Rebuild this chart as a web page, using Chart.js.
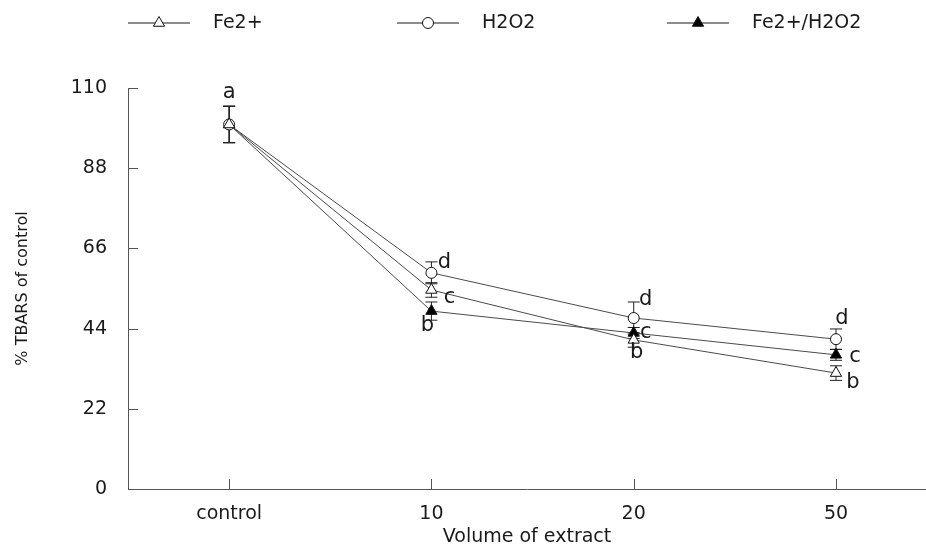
<!DOCTYPE html>
<html>
<head>
<meta charset="utf-8">
<script src="https://cdn.jsdelivr.net/npm/chart.js@4.4.1/dist/chart.umd.min.js"></script>
<style>
  html, body { margin: 0; padding: 0; background: #fff; overflow: hidden; }
  canvas { display: block; }
</style>
</head>
<body>
<canvas id="tbarsChart" width="926" height="552"></canvas>
<script>
// categories and tick values
const categories = ['control', '10', '20', '50'];
const yTicks = [0, 22, 44, 66, 88, 110];

// % TBARS of control
const fe2Values = [100, 54.6, 40.9, 31.8];
const h2o2Values = [100, 59.3, 46.9, 41.1];
const fe2h2o2Values = [100, 48.8, 42.8, 36.8];

// error bar half-heights
const fe2Errors = [5, 2, 2, 2];
const h2o2Errors = [5, 3, 4.4, 2.8];
const fe2h2o2Errors = [5, 2.5, 1.5, 1.5];

// significance letters
const fe2Letters = ['', 'c', 'b', 'b'];
const h2o2Letters = ['a', 'd', 'd', 'd'];
const fe2h2o2Letters = ['', 'b', 'c', 'c'];

// letter placement relative to the point (px)
const fe2LetterOffsets = [null, [18, 8], [3, 13], [17, 9]];
const h2o2LetterOffsets = [[0, -32], [13, -10], [12, -18], [6, -21]];
const fe2h2o2LetterOffsets = [null, [-4, 14], [12, 0], [19, 2]];

const FONT = 'DejaVu Sans';
const TEXT = '#1a1a1a';
const AXIS = '#555';

Chart.defaults.font.family = FONT;
Chart.defaults.font.size = 19;
Chart.defaults.color = TEXT;

function toPoints(values) {
    return values.map((v, i) => ({ x: i, y: v }));
}

function makeSeries(label, values, errors, letters, offsets, style, fill) {
    return {
        label: label,
        data: toPoints(values),
        errors: errors,
        letters: letters,
        letterOffsets: offsets,
        borderColor: '#4a4a4a',
        borderWidth: 1,
        pointStyle: style,
        pointRadius: style === 'circle' ? 5.5 : 6.5,
        pointHoverRadius: style === 'circle' ? 5.5 : 6.5,
        pointBackgroundColor: fill,
        pointBorderColor: '#111',
        pointBorderWidth: 1,
        tension: 0
    };
}

const errorBarPlugin = {
    id: 'errorBars',
    beforeDatasetsDraw(chart) {
        const { ctx, scales: { x, y } } = chart;
        ctx.save();
        ctx.strokeStyle = '#222';
        ctx.lineWidth = 1;
        chart.data.datasets.forEach(ds => {
            ds.data.forEach((p, i) => {
                const e = ds.errors[i];
                const px = x.getPixelForValue(p.x);
                const top = y.getPixelForValue(p.y + e);
                const bot = y.getPixelForValue(p.y - e);
                ctx.beginPath();
                ctx.moveTo(px, top); ctx.lineTo(px, bot);
                ctx.moveTo(px - 6, top); ctx.lineTo(px + 6, top);
                ctx.moveTo(px - 6, bot); ctx.lineTo(px + 6, bot);
                ctx.stroke();
            });
        });
        ctx.restore();
    },
    afterDatasetsDraw(chart) {
        const { ctx, scales: { x, y } } = chart;
        ctx.save();
        ctx.font = '21px "' + FONT + '"';
        ctx.fillStyle = TEXT;
        ctx.textAlign = 'center';
        ctx.textBaseline = 'middle';
        chart.data.datasets.forEach(ds => {
            ds.data.forEach((p, i) => {
                const txt = ds.letters[i];
                const off = ds.letterOffsets[i];
                if (!txt || !off) return;
                ctx.fillText(txt, x.getPixelForValue(p.x) + off[0], y.getPixelForValue(p.y) + off[1]);
            });
        });
        ctx.restore();
    }
};

// inward tick marks and the legend at the top
const framePlugin = {
    id: 'frame',
    afterDraw(chart) {
        const { ctx, scales: { x, y }, chartArea } = chart;
        ctx.save();
        ctx.strokeStyle = AXIS;
        ctx.lineWidth = 1;
        ctx.beginPath();
        yTicks.forEach(v => {
            if (v === 0) return;
            const py = Math.round(y.getPixelForValue(v)) + 0.5;
            ctx.moveTo(chartArea.left, py);
            ctx.lineTo(chartArea.left + 10, py);
        });
        categories.forEach((c, i) => {
            const px = Math.round(x.getPixelForValue(i)) + 0.5;
            ctx.moveTo(px, chartArea.bottom);
            ctx.lineTo(px, chartArea.bottom - 10);
        });
        ctx.stroke();

        const legendX = [128, 397, 667];
        const legendY = 23;
        chart.data.datasets.forEach((ds, i) => {
            const x0 = legendX[i];
            ctx.strokeStyle = '#666';
            ctx.lineWidth = 1.5;
            ctx.beginPath();
            ctx.moveTo(x0, legendY);
            ctx.lineTo(x0 + 62, legendY);
            ctx.stroke();
            ctx.fillStyle = ds.pointBackgroundColor;
            ctx.strokeStyle = ds.pointBorderColor;
            ctx.lineWidth = 1;
            Chart.helpers.drawPoint(ctx, {
                pointStyle: ds.pointStyle,
                radius: ds.pointRadius,
                borderWidth: 1,
                rotation: 0
            }, x0 + 31, legendY);
            ctx.fillStyle = TEXT;
            ctx.font = '19px "' + FONT + '"';
            ctx.textAlign = 'left';
            ctx.textBaseline = 'middle';
            ctx.fillText(ds.label, x0 + 85, legendY);
        });
        ctx.restore();
    }
};

new Chart(document.getElementById('tbarsChart'), {
    type: 'line',
    data: {
        datasets: [
            makeSeries('Fe2+', fe2Values, fe2Errors, fe2Letters, fe2LetterOffsets, 'triangle', '#fff'),
            makeSeries('H2O2', h2o2Values, h2o2Errors, h2o2Letters, h2o2LetterOffsets, 'circle', '#fff'),
            makeSeries('Fe2+/H2O2', fe2h2o2Values, fe2h2o2Errors, fe2h2o2Letters, fe2h2o2LetterOffsets, 'triangle', '#000')
        ]
    },
    options: {
        responsive: false,
        devicePixelRatio: 1,
        animation: false,
        layout: { autoPadding: false, padding: { top: 88, right: 0, bottom: 0, left: 0 } },
        plugins: {
            legend: { display: false },
            tooltip: { enabled: false }
        },
        scales: {
            x: {
                type: 'linear',
                min: -0.5,
                max: 3.445,
                afterBuildTicks: axis => { axis.ticks = categories.map((c, i) => ({ value: i })); },
                afterFit: s => { s.height = 63; s.paddingLeft = 0; s.paddingRight = 0; },
                grid: { display: false, drawTicks: false },
                border: { display: true, color: AXIS, width: 1 },
                ticks: { padding: 14, autoSkip: false, maxRotation: 0, callback: v => categories[v] },
                title: { display: true, text: 'Volume of extract', padding: { top: 0, bottom: 4 } }
            },
            y: {
                min: 0,
                max: 110,
                afterBuildTicks: axis => { axis.ticks = yTicks.map(v => ({ value: v })); },
                afterFit: s => { s.width = 128; s.paddingTop = 0; s.paddingBottom = 0; },
                grid: { display: false, drawTicks: false },
                border: { display: true, color: AXIS, width: 1 },
                ticks: { padding: 21 },
                title: { display: true, text: '% TBARS of control', font: { size: 16 }, padding: { top: 13, bottom: 0 } }
            }
        }
    },
    plugins: [errorBarPlugin, framePlugin]
});
</script>
</body>
</html>
